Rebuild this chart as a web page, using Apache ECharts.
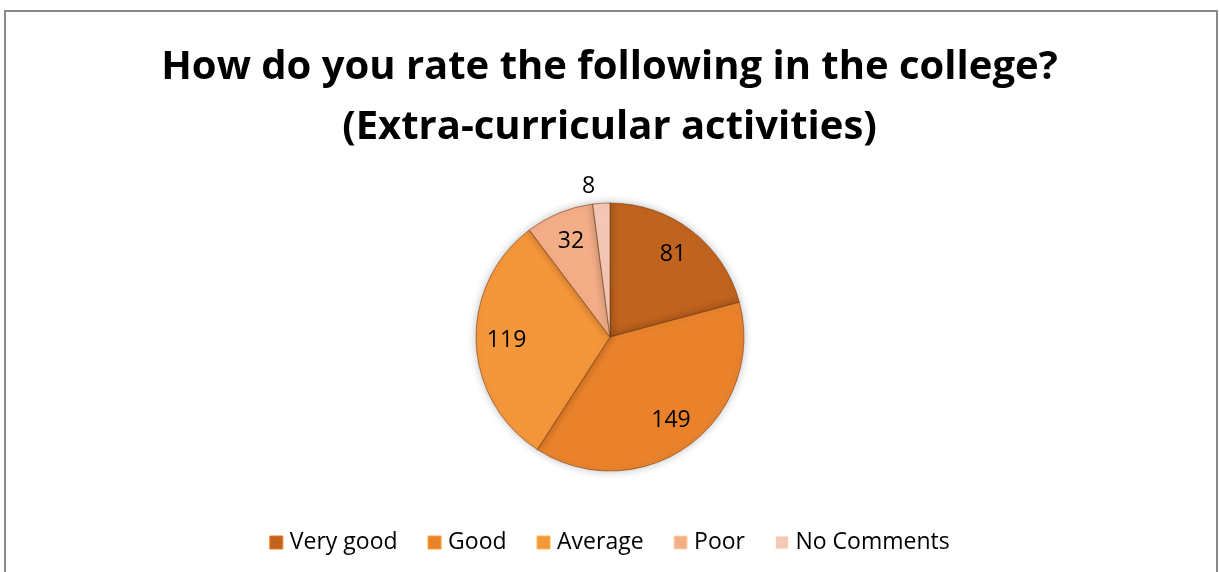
<!DOCTYPE html>
<html>
<head>
<meta charset="utf-8">
<script src="https://cdn.jsdelivr.net/npm/echarts@6/dist/echarts.min.js"></script>
<style>
  html, body { margin: 0; padding: 0; background: #fff; }
  #chart { width: 1219px; height: 572px; }
</style>
</head>
<body>
<div id="chart"></div>
<script>
const categories = ["Very good", "Good", "Average", "Poor", "No Comments"];
const counts = [81, 149, 119, 32, 8];
const colors = ["#C0631F", "#E9822B", "#F4963A", "#F3AE88", "#F4C8B6"];

const chart = echarts.init(document.getElementById("chart"));

const pieData = categories.map((name, i) => ({
  name: name,
  value: counts[i],
  itemStyle: { color: colors[i] }
}));

const labelData = categories.map((name, i) => {
  const item = { name: name, value: counts[i], itemStyle: { color: "transparent" } };
  if (counts[i] < 20) {
    item.label = { position: "outside" };
    item.labelLine = { show: false, length: 17, length2: 0 };
  }
  return item;
});

const option = {
  backgroundColor: "#fff",
  animation: false,
  color: colors,
  title: {
    text: "How do you rate the following in the college?\n(Extra-curricular activities)",
    left: "center",
    top: 33,
    textStyle: {
      fontFamily: "Open Sans",
      fontWeight: "bold",
      fontSize: 40,
      lineHeight: 60,
      color: "#000"
    }
  },
  legend: {
    bottom: 13,
    left: "center",
    itemWidth: 13,
    itemHeight: 13,
    itemGap: 30,
    icon: "rect",
    data: categories.map((n, i) => ({ name: n, itemStyle: { color: colors[i], borderColor: echarts.color.lift(colors[i], -0.25), borderWidth: 1 } })),
    textStyle: { fontFamily: "Open Sans", fontSize: 23, color: "#000", padding: [0, 0, 0, 2] }
  },
  graphic: [{
    type: "rect",
    shape: { x: 5, y: 11, width: 1212, height: 600 },
    style: { fill: "none", stroke: "#888", lineWidth: 2 },
    silent: true
  }],
  series: [
    {
      type: "pie",
      center: [610, 337],
      radius: 134,
      startAngle: 90,
      clockwise: true,
      label: { show: false },
      labelLine: { show: false },
      itemStyle: {
        borderColor: "rgba(110,55,15,0.55)",
        borderWidth: 1,
        shadowBlur: 8,
        shadowColor: "rgba(0,0,0,0.25)"
      },
      data: pieData
    },
    {
      type: "pie",
      center: [610, 337],
      radius: [67, 134],
      startAngle: 90,
      clockwise: true,
      silent: true,
      z: 3,
      label: {
        show: true,
        position: "inside",
        formatter: "{c}",
        fontFamily: "Open Sans",
        fontSize: 23,
        color: "#000"
      },
      labelLine: { show: false },
      itemStyle: { color: "transparent" },
      data: labelData
    }
  ]
};

chart.setOption(option);
</script>
</body>
</html>
